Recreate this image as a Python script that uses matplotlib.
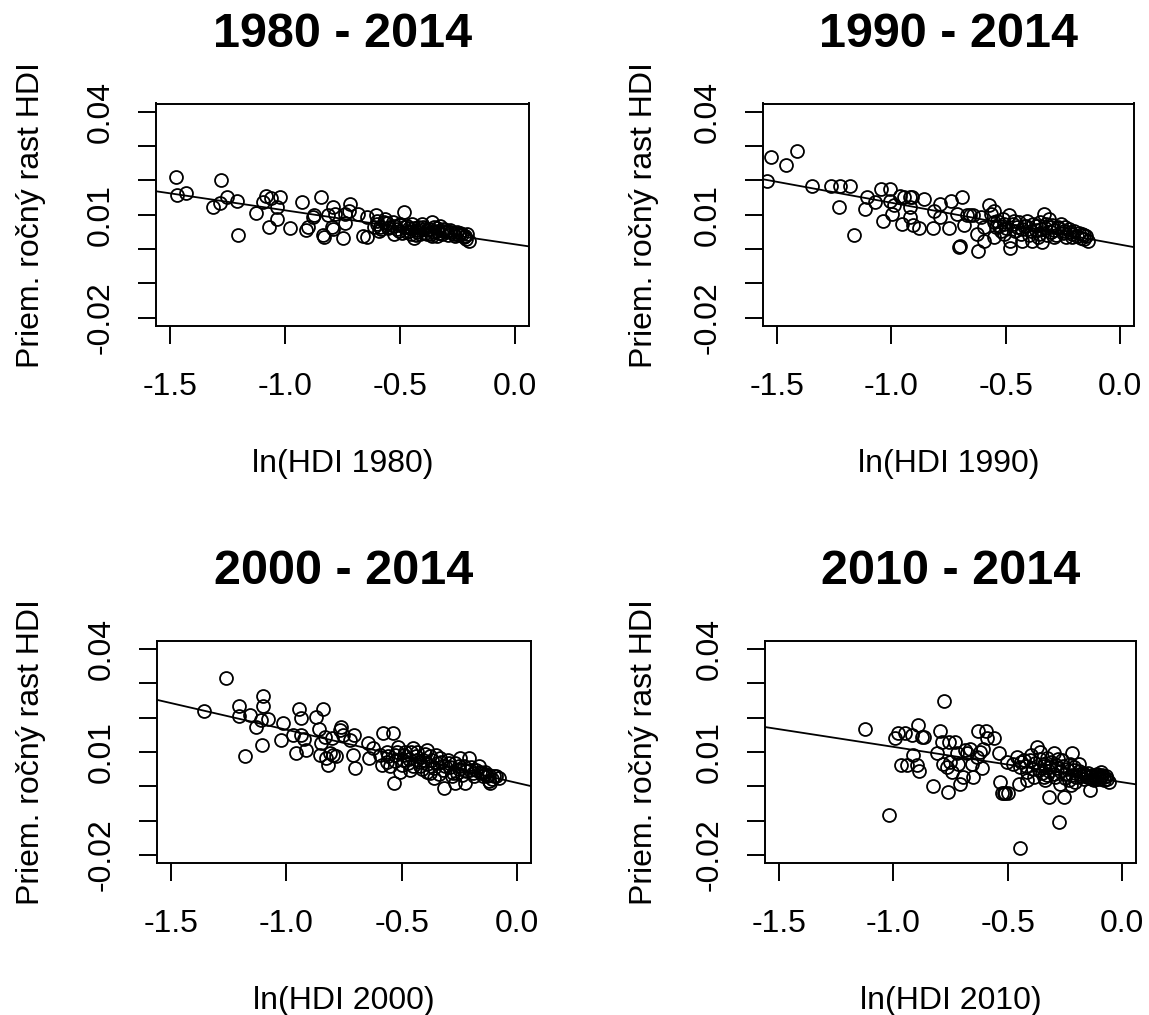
import numpy as np
import matplotlib
matplotlib.use("Agg")
import matplotlib.pyplot as plt

plt.rcParams['font.family'] = ['Liberation Sans', 'DejaVu Sans']

# ---- data ----
titles = ["1980 - 2014", "1990 - 2014", "2000 - 2014", "2010 - 2014"]
xlabels = ["ln(HDI 1980)", "ln(HDI 1990)", "ln(HDI 2000)", "ln(HDI 2010)"]
ylabel = "Priem. ročný rast HDI"

# fitted lines: (intercept, slope)
fit_1980 = (0.0014, -0.0099)
fit_1990 = (0.0013, -0.0122)
fit_2000 = (0.0010, -0.0155)
fit_2010 = (0.0012, -0.0103)

pts_1980 = [
    (-1.475, 0.0210), (-1.468, 0.0158), (-1.430, 0.0164), (-1.279, 0.0200), (-1.253, 0.0153),
    (-1.314, 0.0122), (-1.282, 0.0134), (-1.209, 0.0141), (-1.202, 0.0042), (-1.125, 0.0105),
    (-1.096, 0.0137), (-1.081, 0.0154), (-1.060, 0.0149), (-1.067, 0.0065), (-1.035, 0.0122),
    (-1.032, 0.0088), (-1.020, 0.0153), (-0.977, 0.0060), (-0.926, 0.0136), (-0.908, 0.0056),
    (-0.901, 0.0063), (-0.878, 0.0093), (-0.875, 0.0098), (-0.842, 0.0151), (-0.834, 0.0041),
    (-0.831, 0.0036), (-0.810, 0.0100), (-0.791, 0.0124), (-0.791, 0.0059), (-0.795, 0.0063),
    (-0.781, 0.0102), (-0.747, 0.0032), (-0.737, 0.0075), (-0.740, 0.0102), (-0.715, 0.0132),
    (-0.722, 0.0110), (-0.683, 0.0102), (-0.660, 0.0037), (-0.642, 0.0034), (-0.642, 0.0093),
    (-0.602, 0.0100), (-0.599, 0.0083), (-0.592, 0.0054), (-0.584, 0.0063), (-0.562, 0.0088),
    (-0.555, 0.0075), (-0.548, 0.0065), (-0.526, 0.0068), (-0.504, 0.0052), (-0.483, 0.0107),
    (-0.483, 0.0063), (-0.468, 0.0049), (-0.453, 0.0044), (-0.439, 0.0032), (-0.446, 0.0073),
    (-0.424, 0.0049), (-0.403, 0.0073), (-0.395, 0.0059), (-0.381, 0.0044), (-0.359, 0.0078),
    (-0.352, 0.0063), (-0.337, 0.0054), (-0.323, 0.0068), (-0.315, 0.0044), (-0.308, 0.0059),
    (-0.294, 0.0054), (-0.279, 0.0049), (-0.265, 0.0044), (-0.243, 0.0041), (-0.228, 0.0044),
    (-0.214, 0.0039), (-0.199, 0.0024), (-0.206, 0.0044), (-0.366, 0.0044), (-0.410, 0.0044),
    (-0.497, 0.0073), (-0.613, 0.0063), (-0.526, 0.0044), (-0.337, 0.0039), (-0.460, 0.0060),
    (-0.380, 0.0055), (-0.300, 0.0050), (-0.250, 0.0050), (-0.420, 0.0065), (-0.350, 0.0050),
    (-0.600, 0.0072), (-0.580, 0.0058), (-0.570, 0.0080), (-0.550, 0.0060), (-0.530, 0.0078),
    (-0.510, 0.0058), (-0.500, 0.0070), (-0.490, 0.0047), (-0.470, 0.0068), (-0.460, 0.0052),
    (-0.440, 0.0062), (-0.430, 0.0041), (-0.420, 0.0057), (-0.400, 0.0064), (-0.390, 0.0048),
    (-0.370, 0.0058), (-0.360, 0.0038), (-0.340, 0.0062), (-0.330, 0.0046), (-0.310, 0.0052),
    (-0.290, 0.0042), (-0.280, 0.0055), (-0.260, 0.0038), (-0.240, 0.0047), (-0.220, 0.0036),
    (-0.210, 0.0030),
]

pts_1990 = [
    (-1.541, 0.0198), (-1.526, 0.0268), (-1.459, 0.0246), (-1.412, 0.0286), (-1.347, 0.0185),
    (-1.262, 0.0185), (-1.223, 0.0185), (-1.182, 0.0185), (-1.226, 0.0124), (-1.164, 0.0042),
    (-1.106, 0.0151), (-1.113, 0.0117), (-1.070, 0.0137), (-1.045, 0.0176), (-1.004, 0.0176),
    (-1.036, 0.0083), (-1.004, 0.0141), (-0.997, 0.0102), (-0.989, 0.0127), (-0.960, 0.0156),
    (-0.953, 0.0073), (-0.945, 0.0151), (-0.919, 0.0151), (-0.909, 0.0153), (-0.916, 0.0124),
    (-0.916, 0.0093), (-0.905, 0.0071), (-0.880, 0.0061), (-0.855, 0.0146), (-0.817, 0.0061),
    (-0.785, 0.0132), (-0.785, 0.0093), (-0.749, 0.0061), (-0.741, 0.0141), (-0.712, 0.0102),
    (-0.705, 0.0005), (-0.700, 0.0010), (-0.690, 0.0151), (-0.683, 0.0071), (-0.654, 0.0100),
    (-0.642, 0.0098), (-0.627, 0.0044), (-0.620, -0.0005), (-0.610, 0.0093), (-0.595, 0.0024),
    (-0.573, 0.0127), (-0.566, 0.0102), (-0.552, 0.0112), (-0.552, 0.0034), (-0.537, 0.0083),
    (-0.522, 0.0054), (-0.508, 0.0073), (-0.486, 0.0098), (-0.481, 0.0024), (-0.481, 0.0003),
    (-0.464, 0.0083), (-0.449, 0.0063), (-0.435, 0.0044), (-0.427, 0.0024), (-0.406, 0.0083),
    (-0.391, 0.0054), (-0.384, 0.0024), (-0.369, 0.0068), (-0.355, 0.0044), (-0.340, 0.0020),
    (-0.333, 0.0102), (-0.325, 0.0073), (-0.311, 0.0088), (-0.303, 0.0049), (-0.289, 0.0034),
    (-0.274, 0.0063), (-0.260, 0.0073), (-0.245, 0.0054), (-0.238, 0.0034), (-0.223, 0.0059),
    (-0.209, 0.0044), (-0.187, 0.0039), (-0.165, 0.0044), (-0.158, 0.0029), (-0.143, 0.0024),
    (-0.150, 0.0039), (-0.595, 0.0063), (-0.508, 0.0044), (-0.420, 0.0068), (-0.347, 0.0059),
    (-0.303, 0.0063), (-0.544, 0.0063), (-0.668, 0.0098), (-0.814, 0.0112),
    (-0.550, 0.0078), (-0.530, 0.0066), (-0.510, 0.0088), (-0.500, 0.0060), (-0.470, 0.0072),
    (-0.460, 0.0052), (-0.440, 0.0078), (-0.430, 0.0058), (-0.410, 0.0068), (-0.400, 0.0040),
    (-0.380, 0.0074), (-0.370, 0.0055), (-0.360, 0.0034), (-0.350, 0.0080), (-0.330, 0.0060),
    (-0.320, 0.0042), (-0.300, 0.0070), (-0.290, 0.0055), (-0.280, 0.0040), (-0.270, 0.0062),
    (-0.250, 0.0048), (-0.240, 0.0064), (-0.220, 0.0050), (-0.210, 0.0034), (-0.200, 0.0052),
    (-0.180, 0.0046), (-0.170, 0.0033), (-0.160, 0.0040),
]

pts_2000 = [
    (-1.355, 0.0218), (-1.261, 0.0315), (-1.206, 0.0233), (-1.203, 0.0204), (-1.159, 0.0208),
    (-1.177, 0.0087), (-1.133, 0.0172), (-1.109, 0.0194), (-1.104, 0.0121), (-1.099, 0.0264),
    (-1.099, 0.0235), (-1.080, 0.0196), (-1.022, 0.0134), (-1.014, 0.0184), (-0.971, 0.0150),
    (-0.957, 0.0097), (-0.945, 0.0225), (-0.935, 0.0199), (-0.935, 0.0150), (-0.925, 0.0137),
    (-0.916, 0.0106), (-0.870, 0.0202), (-0.858, 0.0167), (-0.855, 0.0092), (-0.843, 0.0225),
    (-0.848, 0.0126), (-0.833, 0.0145), (-0.826, 0.0082), (-0.819, 0.0063), (-0.812, 0.0097),
    (-0.804, 0.0140), (-0.797, 0.0092), (-0.783, 0.0087), (-0.768, 0.0165), (-0.761, 0.0174),
    (-0.754, 0.0150), (-0.725, 0.0135), (-0.713, 0.0092), (-0.707, 0.0150), (-0.703, 0.0053),
    (-0.645, 0.0126), (-0.641, 0.0082), (-0.623, 0.0111), (-0.594, 0.0092), (-0.583, 0.0155),
    (-0.587, 0.0063), (-0.565, 0.0101), (-0.536, 0.0155), (-0.533, 0.0011), (-0.529, 0.0092),
    (-0.514, 0.0116), (-0.507, 0.0043), (-0.493, 0.0077), (-0.471, 0.0067), (-0.464, 0.0048),
    (-0.449, 0.0111), (-0.435, 0.0101), (-0.420, 0.0058), (-0.406, 0.0077), (-0.391, 0.0106),
    (-0.391, 0.0043), (-0.377, 0.0087), (-0.362, 0.0024), (-0.348, 0.0067), (-0.333, 0.0082),
    (-0.319, -0.0006), (-0.312, 0.0058), (-0.297, 0.0067), (-0.283, 0.0029), (-0.268, 0.0009),
    (-0.254, 0.0058), (-0.246, 0.0082), (-0.225, 0.0009), (-0.210, 0.0082), (-0.203, 0.0048),
    (-0.188, 0.0029), (-0.167, 0.0058), (-0.152, 0.0038), (-0.130, 0.0029), (-0.116, 0.0009),
    (-0.101, 0.0029), (-0.080, 0.0024), (-0.138, 0.0043), (-0.261, 0.0038), (-0.377, 0.0038),
    (-0.435, 0.0077), (-0.565, 0.0072), (-0.486, 0.0101),
    (-0.560, 0.0088), (-0.550, 0.0060), (-0.530, 0.0075), (-0.520, 0.0100), (-0.500, 0.0062),
    (-0.490, 0.0090), (-0.470, 0.0080), (-0.460, 0.0100), (-0.450, 0.0060), (-0.440, 0.0088),
    (-0.420, 0.0072), (-0.410, 0.0050), (-0.400, 0.0094), (-0.390, 0.0065), (-0.370, 0.0078),
    (-0.360, 0.0052), (-0.350, 0.0090), (-0.340, 0.0036), (-0.330, 0.0070), (-0.320, 0.0048),
    (-0.300, 0.0078), (-0.290, 0.0056), (-0.280, 0.0040), (-0.270, 0.0068), (-0.250, 0.0050),
    (-0.240, 0.0032), (-0.230, 0.0060), (-0.220, 0.0044), (-0.200, 0.0055), (-0.190, 0.0038),
    (-0.180, 0.0048), (-0.160, 0.0042), (-0.150, 0.0030), (-0.140, 0.0036), (-0.120, 0.0034),
    (-0.110, 0.0022), (-0.090, 0.0030), (-0.120, 0.0016),
]

pts_2010 = [
    (-1.125, 0.0166), (-1.018, -0.0082), (-0.993, 0.0140), (-0.979, 0.0156), (-0.964, 0.0061),
    (-0.949, 0.0154), (-0.942, 0.0061), (-0.916, 0.0149), (-0.913, 0.0091), (-0.898, 0.0061),
    (-0.891, 0.0179), (-0.887, 0.0045), (-0.876, 0.0144), (-0.866, 0.0144), (-0.825, 0.0000),
    (-0.811, 0.0096), (-0.796, 0.0162), (-0.789, 0.0130), (-0.779, 0.0248), (-0.784, 0.0064),
    (-0.767, 0.0057), (-0.760, -0.0017), (-0.755, 0.0130), (-0.752, 0.0071), (-0.745, 0.0042),
    (-0.730, 0.0130), (-0.723, 0.0096), (-0.716, 0.0066), (-0.708, 0.0008), (-0.694, 0.0027),
    (-0.686, 0.0105), (-0.679, 0.0096), (-0.665, 0.0110), (-0.657, 0.0066), (-0.650, 0.0027),
    (-0.635, 0.0086), (-0.628, 0.0162), (-0.621, 0.0100), (-0.613, 0.0052), (-0.606, 0.0110),
    (-0.594, 0.0162), (-0.589, 0.0140), (-0.562, 0.0140), (-0.540, 0.0098), (-0.536, 0.0013),
    (-0.526, -0.0020), (-0.511, -0.0020), (-0.497, -0.0020), (-0.504, 0.0071), (-0.475, 0.0066),
    (-0.460, 0.0086), (-0.453, 0.0008), (-0.448, -0.0180), (-0.446, 0.0057), (-0.431, 0.0076),
    (-0.416, 0.0042), (-0.402, 0.0076), (-0.387, 0.0027), (-0.372, 0.0115), (-0.365, 0.0047),
    (-0.358, 0.0100), (-0.343, 0.0066), (-0.336, 0.0018), (-0.329, 0.0032), (-0.321, -0.0031),
    (-0.314, 0.0057), (-0.299, 0.0096), (-0.292, 0.0027), (-0.285, 0.0052), (-0.278, -0.0104),
    (-0.270, 0.0008), (-0.263, 0.0076), (-0.256, -0.0031), (-0.248, 0.0037), (-0.234, 0.0018),
    (-0.219, 0.0096), (-0.212, 0.0047), (-0.205, 0.0013), (-0.190, 0.0066), (-0.183, 0.0037),
    (-0.168, 0.0022), (-0.153, 0.0027), (-0.139, -0.0012), (-0.124, 0.0018), (-0.110, 0.0037),
    (-0.095, 0.0027), (-0.080, 0.0018), (-0.058, 0.0013), (-0.095, 0.0042), (-0.343, 0.0027),
    (-0.416, 0.0018), (-0.226, 0.0003), (-0.518, -0.0020),
    (-0.440, 0.0072), (-0.420, 0.0060), (-0.400, 0.0090), (-0.390, 0.0050), (-0.380, 0.0068),
    (-0.360, 0.0080), (-0.350, 0.0040), (-0.340, 0.0060), (-0.330, 0.0082), (-0.320, 0.0046),
    (-0.310, 0.0070), (-0.300, 0.0036), (-0.290, 0.0062), (-0.280, 0.0080), (-0.270, 0.0044),
    (-0.260, 0.0060), (-0.250, 0.0024), (-0.240, 0.0050), (-0.230, 0.0066), (-0.220, 0.0034),
    (-0.210, 0.0056), (-0.200, 0.0028), (-0.190, 0.0046), (-0.180, 0.0030), (-0.170, 0.0040),
    (-0.160, 0.0032), (-0.150, 0.0038), (-0.140, 0.0028), (-0.130, 0.0034), (-0.120, 0.0026),
    (-0.110, 0.0032), (-0.100, 0.0028), (-0.090, 0.0034), (-0.080, 0.0026), (-0.070, 0.0030),
    (-0.065, 0.0020), (-0.100, 0.0020), (-0.130, 0.0020),
]

xticks = [-1.5, -1.0, -0.5, 0.0]
xticklabels = ["-1.5", "-1.0", "-0.5", "0.0"]
yticks = [0.04, 0.03, 0.02, 0.01, 0.00, -0.01, -0.02]
yticklabels = ["0.04", "", "", "0.01", "", "", "-0.02"]

panels = [
    (titles[0], xlabels[0], pts_1980, fit_1980),
    (titles[1], xlabels[1], pts_1990, fit_1990),
    (titles[2], xlabels[2], pts_2000, fit_2000),
    (titles[3], xlabels[3], pts_2010, fit_2010),
]

# plot boxes in pixels: left, top, right, bottom; and y-label centre x
W, H = 1149, 1015
boxes = [(156, 103.5, 528.5, 326), (763, 103.5, 1134, 326),
         (157, 640.7, 531, 863.3), (765, 640.7, 1136, 863.3)]
ylab_x = [31, 644, 31, 644]

fig = plt.figure(figsize=(W / 100, H / 100), dpi=100)

for (title, xl, pts, fit), (l, t, r, b), yx in zip(panels, boxes, ylab_x):
    ax = fig.add_axes([l / W, 1 - b / H, (r - l) / W, (b - t) / H])
    pts = np.array(pts)
    ax.plot(pts[:, 0], pts[:, 1], 'o', mfc='none', mec='black', ms=9.3, mew=1.3)
    ax.axline((0, fit[0]), slope=fit[1], color='black', lw=1.3)
    ax.set_xlim(-1.56, 0.06)
    ax.set_ylim(-0.0224, 0.0424)
    ax.set_xticks(xticks)
    ax.set_xticklabels(xticklabels)
    ax.set_yticks(yticks)
    ax.set_yticklabels(yticklabels, rotation=90, va='center')
    ax.tick_params(direction='out', length=13, width=1.4, labelsize=23, pad=20)
    ax.tick_params(axis='y', pad=16)
    for s in ax.spines.values():
        s.set_linewidth(1.4)
    w_px, h_px = r - l, b - t
    ax.text(0.5, 1 + 69 / h_px, title, transform=ax.transAxes, ha='center', va='center',
            fontsize=35, fontweight='bold')
    ax.text(0.5, -138 / h_px, xl, transform=ax.transAxes, ha='center', va='center',
            fontsize=23)
    ax.text(-(l - yx) / w_px, 0.5, ylabel, transform=ax.transAxes,
            ha='center', va='center', rotation=90, fontsize=23)

fig.savefig("out.png", dpi=100)
